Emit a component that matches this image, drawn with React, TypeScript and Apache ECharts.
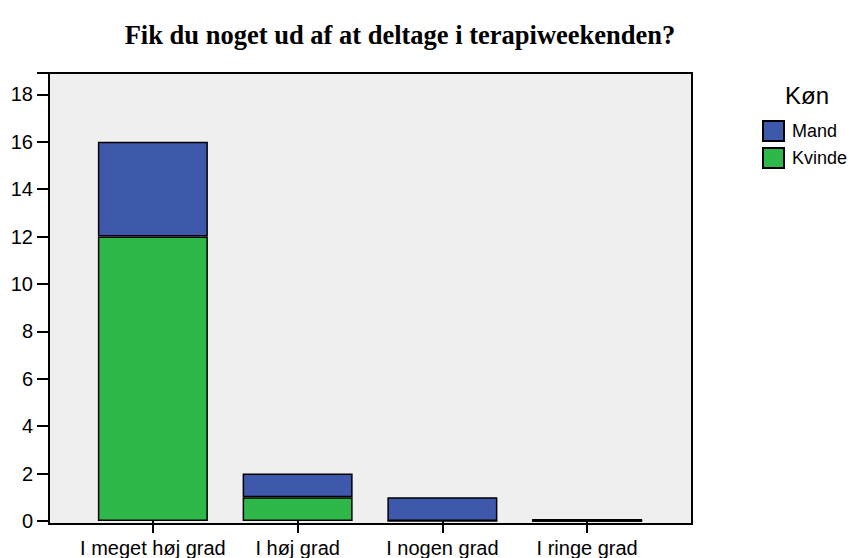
import React, { useEffect, useRef } from "react";
import * as echarts from "echarts";

const categories = ["I meget høj grad", "I høj grad", "I nogen grad", "I ringe grad"];
const kvinde = [12, 1, 0, 0];
const mand = [4, 1, 1, 0];
const yTicks = [0, 2, 4, 6, 8, 10, 12, 14, 16, 18];

const BLUE = "#3e58ab";
const GREEN = "#2fb84a";

export default function App() {
  const ref = useRef<HTMLDivElement>(null);
  useEffect(() => {
    document.body.style.margin = "0";
    const chart = echarts.init(ref.current!, null, { renderer: "svg" });
    const sans = "Liberation Sans, Arial, sans-serif";
    const zeroTotals = categories
      .map((_, i) => [i, kvinde[i] + mand[i]])
      .filter((d) => d[1] === 0);
    chart.setOption({
      animation: false,
      backgroundColor: "#ffffff",
      title: {
        text: "Fik du noget ud af at deltage i terapiweekenden?",
        left: 395,
        top: 16,
        textAlign: "center",
        textStyle: {
          fontFamily: "Liberation Serif, Times New Roman, serif",
          fontWeight: "bold",
          fontSize: 26.5,
          color: "#000",
        },
      },
      graphic: [
        {
          type: "text",
          left: 785,
          top: 83,
          style: { text: "Køn", font: `24px ${sans}`, fill: "#000" },
        },
      ],
      legend: {
        data: ["Mand", "Kvinde"],
        orient: "vertical",
        left: 757,
        top: 115,
        itemWidth: 21,
        itemHeight: 20,
        itemGap: 5,
        icon: "rect",
        textStyle: { fontFamily: sans, fontSize: 18, color: "#000", padding: [0, 0, 0, 3] },
      },
      grid: [
        {
          left: 49,
          right: 161,
          top: 73,
          bottom: 34,
          show: true,
          backgroundColor: "#efefef",
          borderColor: "#000",
          borderWidth: 2,
        },
        {
          left: 80.5,
          right: 193.5,
          top: 73,
          bottom: 34,
        },
      ],
      xAxis: [
        { gridIndex: 0, type: "category", data: categories, show: false },
        {
          gridIndex: 1,
          type: "category",
          data: categories,
          axisLine: { show: false },
          axisTick: { show: true, alignWithLabel: true, length: 12, lineStyle: { color: "#000", width: 2 } },
          axisLabel: { color: "#000", fontFamily: sans, fontSize: 20, margin: 17, interval: 0 },
        },
      ],
      yAxis: [
        { gridIndex: 0, type: "value", min: 0, max: 18.9, show: false, splitLine: { show: false } },
        {
          gridIndex: 1,
          type: "value",
          min: 0,
          max: 18.9,
          interval: 2,
          offset: 31.5,
          axisLine: { show: false },
          axisTick: { show: true, length: 12, lineStyle: { color: "#000", width: 2 } },
          axisLabel: {
            color: "#000",
            fontFamily: sans,
            fontSize: 20,
            margin: 16,
            formatter: (v: number) => (yTicks.includes(v) ? String(v) : ""),
          },
          splitLine: { show: false },
        },
      ],
      series: [
        {
          name: "Kvinde",
          type: "bar",
          stack: "total",
          xAxisIndex: 1,
          yAxisIndex: 1,
          data: kvinde,
          barWidth: "76%",
          itemStyle: { color: GREEN, borderColor: "#000", borderWidth: 1.5 },
        },
        {
          name: "Mand",
          type: "bar",
          stack: "total",
          xAxisIndex: 1,
          yAxisIndex: 1,
          data: mand,
          barWidth: "76%",
          itemStyle: { color: BLUE, borderColor: "#000", borderWidth: 1.5 },
        },
        {
          type: "custom",
          xAxisIndex: 1,
          yAxisIndex: 1,
          data: zeroTotals,
          silent: true,
          renderItem: (params: any, api: any) => {
            const p = api.coord([api.value(0), api.value(1)]);
            const w = (api.size([1, 0])[0] as number) * 0.76;
            return {
              type: "line",
              shape: { x1: p[0] - w / 2, y1: p[1] - 1, x2: p[0] + w / 2, y2: p[1] - 1 },
              style: { stroke: "#000", lineWidth: 2 },
            };
          },
        },
      ],
    });
    return () => chart.dispose();
  }, []);
  return <div ref={ref} style={{ width: 853, height: 558 }} />;
}
